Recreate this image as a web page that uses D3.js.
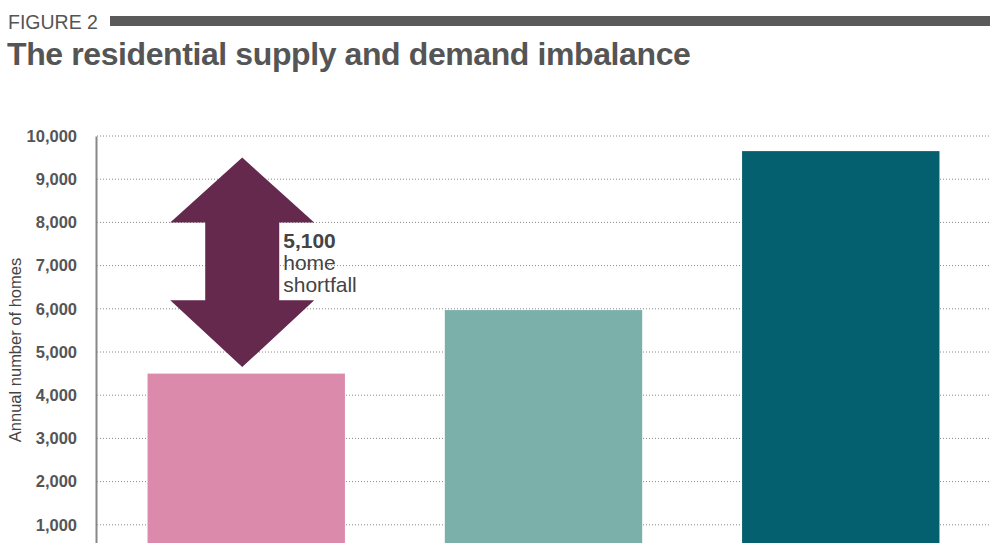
<!DOCTYPE html>
<html><head><meta charset="utf-8">
<script src="https://cdn.jsdelivr.net/npm/d3@7"></script>
<style>body{margin:0;background:#fff;overflow:hidden}svg{display:block}</style>
</head><body>
<script>
const categories = ["Supply", "Demand (current)", "Demand (projected)"];
const values = [4500, 5970, 9650];
const colors = ["#dc8aab", "#7aafaa", "#04606e"];
const yTicks = [1000, 2000, 3000, 4000, 5000, 6000, 7000, 8000, 9000, 10000];
const shortfall = { label: "5,100", lines: ["home", "shortfall"], from: 4650, to: 9500, headFrom: 6200, headTo: 8000 };

const W = 1000, H = 543;
const svg = d3.select("body").append("svg").attr("width", W).attr("height", H);
const font = "'Liberation Sans', Arial, Helvetica, sans-serif";

// header
svg.append("text").attr("x", 8).attr("y", 29).attr("font-family", font)
  .attr("font-size", 19.5).attr("fill", "#555").text("FIGURE 2");
svg.append("rect").attr("x", 110).attr("y", 16).attr("width", 880).attr("height", 10).attr("fill", "#5a5a5a");
svg.append("text").attr("x", 7).attr("y", 65).attr("font-family", font)
  .attr("font-size", 32).attr("font-weight", "bold").attr("fill", "#555").attr("letter-spacing", -0.4)
  .text("The residential supply and demand imbalance");

const x = d3.scaleBand().domain(categories).range([97, 990]).paddingInner(0.336).paddingOuter(0.17);
const y = d3.scaleLinear().domain([0, 10000]).range([568, 136]);

// grid
svg.append("g").selectAll("line").data(yTicks).join("line")
  .attr("x1", 97).attr("x2", 990).attr("y1", d => y(d)).attr("y2", d => y(d))
  .attr("stroke", "#888").attr("stroke-width", 1).attr("stroke-dasharray", "1,2");

// y axis
const yAxis = d3.axisLeft(y).tickValues(yTicks).tickFormat(d3.format(",")).tickSize(0).tickPadding(19);
const ga = svg.append("g").attr("transform", "translate(96,0)").call(yAxis);
ga.select(".domain").attr("stroke", "#888").attr("stroke-width", 2);
ga.selectAll("text").attr("font-family", font).attr("font-size", 16.5).attr("font-weight", "bold").attr("fill", "#555");

svg.append("text").attr("transform", `translate(21,${y(5000)-2}) rotate(-90)`).attr("text-anchor", "middle")
  .attr("font-family", font).attr("font-size", 16.5).attr("fill", "#444").text("Annual number of homes");

// bars
svg.append("g").selectAll("rect").data(values).join("rect")
  .attr("x", (d, i) => x(categories[i])).attr("width", x.bandwidth())
  .attr("y", d => y(d)).attr("height", d => y(0) - y(d))
  .attr("fill", (d, i) => colors[i]);

// arrow
const cx = x(categories[0]) + x.bandwidth() / 2 - 4;
const hw = 72, sw = 37;
const yt = y(shortfall.to), yb = y(shortfall.from), yh1 = y(shortfall.headTo), yh2 = y(shortfall.headFrom);
const pts = [[cx, yt], [cx + hw, yh1], [cx + sw, yh1], [cx + sw, yh2], [cx + hw, yh2], [cx, yb],
  [cx - hw, yh2], [cx - sw, yh2], [cx - sw, yh1], [cx - hw, yh1]];
svg.append("path").attr("d", "M" + pts.map(p => p.join(",")).join("L") + "Z").attr("fill", "#65294e");

const tx = cx + sw + 4;
svg.append("text").attr("x", tx).attr("y", 248).attr("font-family", font).attr("font-size", 21)
  .attr("font-weight", "bold").attr("fill", "#444").text(shortfall.label);
shortfall.lines.forEach((l, i) => svg.append("text").attr("x", tx).attr("y", 270 + i * 22)
  .attr("font-family", font).attr("font-size", 21).attr("fill", "#444").text(l));
</script>
</body></html>
